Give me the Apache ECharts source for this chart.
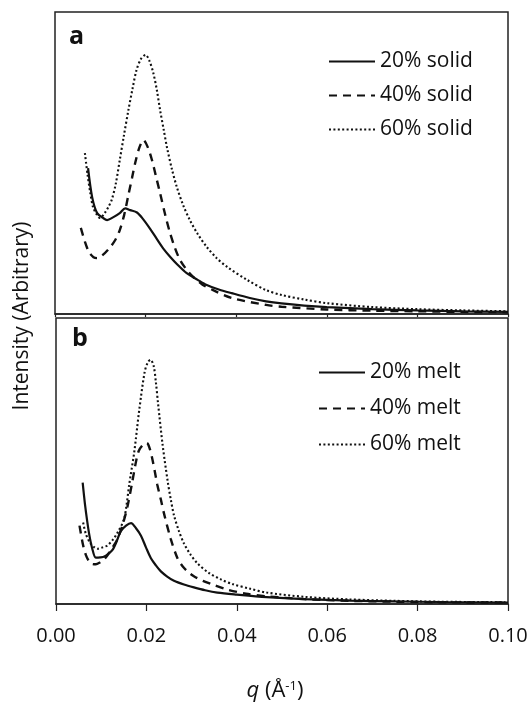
<!DOCTYPE html>
<html>
<head>
<meta charset="utf-8">
<script src="https://cdn.jsdelivr.net/npm/echarts@6/dist/echarts.min.js"></script>
<style>
  html, body { margin: 0; padding: 0; background: #fff; }
  #chart { width: 532px; height: 704px; }
</style>
</head>
<body>
<div id="chart"></div>
<script>
// Scattering vector q (1/Å) and relative intensity pairs for each curve.
// Panel a: solid samples
const solid20 = [
  [0.0073, 48.3], [0.0082, 38.7], [0.0093, 33.4], [0.0106, 31.8], [0.0115, 31.1],
  [0.0128, 32.0], [0.0143, 33.4], [0.0155, 35.0], [0.0166, 34.4], [0.0181, 33.6],
  [0.0194, 31.5], [0.0210, 28.2], [0.0225, 24.8], [0.0240, 21.5], [0.0255, 18.8],
  [0.0270, 16.4], [0.0290, 13.6], [0.0315, 11.3], [0.0335, 9.6], [0.0360, 8.2],
  [0.0390, 6.9], [0.0430, 5.3], [0.0466, 4.2], [0.050, 3.5], [0.055, 2.8],
  [0.060, 2.3], [0.070, 1.6], [0.080, 1.2], [0.090, 0.9], [0.100, 0.7]
];
const solid40 = [
  [0.0057, 28.5], [0.0066, 24.0], [0.0075, 20.5], [0.0085, 18.8], [0.0093, 18.5],
  [0.0105, 19.5], [0.0120, 21.8], [0.0133, 24.5], [0.0143, 27.8], [0.0153, 33.0],
  [0.0162, 39.4], [0.0170, 45.0], [0.0177, 50.0], [0.0186, 55.0], [0.0195, 57.6],
  [0.0204, 55.5], [0.0214, 51.0], [0.0223, 45.5], [0.0232, 40.0], [0.0243, 33.0],
  [0.0254, 26.8], [0.0265, 21.8], [0.0276, 17.9], [0.0290, 14.8], [0.0305, 12.3],
  [0.0325, 9.8], [0.0349, 7.9], [0.0390, 5.3], [0.0466, 3.0], [0.050, 2.4],
  [0.060, 1.5], [0.070, 1.1], [0.080, 0.9], [0.090, 0.7], [0.100, 0.6]
];
const solid60 = [
  [0.0066, 53.3], [0.0072, 46.0], [0.0078, 40.0], [0.0084, 35.4], [0.0092, 33.0],
  [0.0099, 31.8], [0.0110, 33.5], [0.0118, 35.5], [0.0125, 37.7], [0.0134, 43.0],
  [0.0143, 51.0], [0.0152, 59.0], [0.0162, 67.5], [0.0171, 74.5], [0.0180, 80.8],
  [0.0190, 84.5], [0.0200, 85.8], [0.0208, 84.0], [0.0217, 79.8], [0.0225, 74.0],
  [0.0232, 67.5], [0.0240, 61.0], [0.0247, 55.3], [0.0258, 48.0], [0.0269, 42.0],
  [0.0283, 36.0], [0.0298, 31.0], [0.0315, 26.5], [0.0335, 22.2], [0.0357, 18.5],
  [0.0380, 15.6], [0.0424, 11.3], [0.0466, 7.9], [0.050, 6.3], [0.055, 4.8],
  [0.060, 3.6], [0.070, 2.3], [0.080, 1.6], [0.090, 1.2], [0.100, 0.9]
];
// Panel b: melt samples
const melt20 = [
  [0.0059, 42.4], [0.0064, 35.0], [0.0069, 29.0], [0.0074, 23.9], [0.0080, 19.5],
  [0.0088, 16.2], [0.0098, 16.3], [0.0107, 16.6], [0.0116, 17.6], [0.0125, 18.9],
  [0.0134, 21.8], [0.0143, 25.4], [0.0155, 27.4], [0.0166, 28.3], [0.0177, 26.5],
  [0.0188, 23.9], [0.0199, 19.8], [0.0210, 16.0], [0.0221, 13.5], [0.0232, 11.4],
  [0.0246, 9.6], [0.0261, 8.1], [0.0283, 6.8], [0.0305, 5.8], [0.0330, 4.8],
  [0.0357, 4.0], [0.040, 3.3], [0.0466, 2.4], [0.055, 1.7], [0.065, 1.2],
  [0.075, 0.9], [0.085, 0.7], [0.100, 0.5]
];
const melt40 = [
  [0.0052, 27.4], [0.0060, 20.5], [0.0066, 17.2], [0.0073, 14.9], [0.0080, 14.0],
  [0.0088, 13.9], [0.0097, 14.5], [0.0106, 15.5], [0.0118, 18.0], [0.0128, 20.5],
  [0.0136, 22.7], [0.0147, 27.5], [0.0158, 34.0], [0.0169, 42.9], [0.0176, 49.0],
  [0.0183, 53.5], [0.0192, 55.6], [0.0201, 56.3], [0.0207, 54.5], [0.0213, 50.8],
  [0.0219, 46.0], [0.0224, 41.8], [0.0232, 36.5], [0.0239, 31.6], [0.0254, 22.7],
  [0.0269, 15.9], [0.0280, 13.2], [0.0291, 11.4], [0.0305, 9.7], [0.0325, 8.1],
  [0.0350, 6.6], [0.0380, 5.0], [0.0420, 3.6], [0.0466, 2.7], [0.055, 1.7],
  [0.065, 1.1], [0.075, 0.8], [0.085, 0.6], [0.100, 0.5]
];
const melt60 = [
  [0.0060, 28.5], [0.0066, 24.5], [0.0075, 21.5], [0.0085, 19.8], [0.0092, 19.3],
  [0.0103, 19.8], [0.0114, 20.5], [0.0125, 22.3], [0.0136, 24.9], [0.0150, 29.4],
  [0.0156, 34.5], [0.0162, 41.8], [0.0173, 53.0], [0.0184, 67.6], [0.0196, 81.0],
  [0.0203, 84.5], [0.0209, 85.4], [0.0216, 83.3], [0.0221, 77.5], [0.0226, 69.8],
  [0.0236, 55.5], [0.0247, 43.0], [0.0254, 36.5], [0.0261, 31.0], [0.0272, 25.5],
  [0.0283, 21.2], [0.0298, 17.2], [0.0313, 14.2], [0.0338, 10.9], [0.0365, 8.6],
  [0.0390, 7.0], [0.0430, 5.3], [0.0466, 4.0], [0.055, 2.5], [0.065, 1.6],
  [0.075, 1.1], [0.085, 0.8], [0.100, 0.6]
];

const xTicks = [0.00, 0.02, 0.04, 0.06, 0.08, 0.10];
const solidNames = ['20% solid', '40% solid', '60% solid'];
const meltNames = ['20% melt', '40% melt', '60% melt'];

const FONT = 'Open Sans';
const INK = '#111';
const FRAME = '#222';

const lineStyles = [
  { type: 'solid', width: 2.2 },
  { type: [8, 6], width: 2.4 },
  { type: [2, 2.4], width: 2.1 }
];

function makeSeries(name, data, gridIdx, styleIdx) {
  return {
    name: name,
    type: 'line',
    xAxisIndex: gridIdx,
    yAxisIndex: gridIdx,
    data: data,
    showSymbol: false,
    symbol: 'none',
    smooth: 0.3,
    color: INK,
    lineStyle: Object.assign({ color: INK }, lineStyles[styleIdx]),
    z: 3 - styleIdx
  };
}

function xAxis(gridIdx, withLabels) {
  return {
    type: 'value',
    gridIndex: gridIdx,
    min: 0,
    max: 0.1,
    interval: 0.02,
    axisLine: { show: true, lineStyle: { color: FRAME, width: 1.5 } },
    axisTick: { show: true, inside: false, length: withLabels ? 7 : 3, lineStyle: { color: FRAME, width: 1.2 } },
    splitLine: { show: false },
    axisLabel: {
      show: withLabels,
      fontFamily: FONT,
      fontSize: 20,
      color: INK,
      margin: 22,
      formatter: v => {
        const t = xTicks.find(k => Math.abs(k - v) < 1e-9);
        return (t === undefined ? v : t).toFixed(2);
      }
    },
    name: withLabels ? '{q|q} (Å{s|-1})' : '',
    nameLocation: 'middle',
    nameGap: 76,
    nameTextStyle: {
      fontFamily: FONT,
      fontSize: 22,
      color: INK,
      padding: [0, 14, 0, 0],
      rich: {
        q: { fontFamily: FONT, fontSize: 22, fontStyle: 'italic', color: INK },
        s: { fontFamily: FONT, fontSize: 13, color: INK, verticalAlign: 'top', lineHeight: 13, padding: [0, 0, 10, 0] }
      }
    }
  };
}

function yAxis(gridIdx) {
  return {
    type: 'value',
    gridIndex: gridIdx,
    min: 0,
    max: 100,
    axisLine: { show: false },
    axisTick: { show: false },
    axisLabel: { show: false },
    splitLine: { show: false }
  };
}

function legendFor(names, left, top, gap) {
  return {
    show: true,
    orient: 'vertical',
    left: left,
    top: top,
    data: names,
    itemWidth: 46,
    itemHeight: 14,
    itemGap: gap,
    selectedMode: false,
    itemStyle: { opacity: 0 },
    textStyle: { fontFamily: FONT, fontSize: 21, color: INK }
  };
}

const chart = echarts.init(document.getElementById('chart'), null, { renderer: 'canvas' });

chart.setOption({
  backgroundColor: '#fff',
  animation: false,
  grid: [
    { left: 55, right: 24, top: 12, height: 302, show: true, borderColor: FRAME, borderWidth: 1.5, backgroundColor: 'transparent' },
    { left: 56, right: 24, top: 318, height: 296, show: true, borderColor: FRAME, borderWidth: 1.5, backgroundColor: 'transparent' }
  ],
  xAxis: [xAxis(0, false), xAxis(1, true)],
  yAxis: [yAxis(0), yAxis(1)],
  legend: [
    legendFor(solidNames, 323, 46, 13),
    legendFor(meltNames, 313, 357, 15)
  ],
  graphic: [
    { type: 'text', left: 69, top: 24, style: { text: 'a', font: 'bold 25px "Open Sans"', fill: INK } },
    { type: 'text', left: 72, top: 326, style: { text: 'b', font: 'bold 25px "Open Sans"', fill: INK } },
    {
      type: 'text', x: 22, y: 316, rotation: Math.PI / 2,
      style: { text: 'Intensity (Arbitrary)', font: '21px "Open Sans"', fill: INK, align: 'center', verticalAlign: 'middle' }
    }
  ],
  series: [
    makeSeries(solidNames[0], solid20, 0, 0),
    makeSeries(solidNames[1], solid40, 0, 1),
    makeSeries(solidNames[2], solid60, 0, 2),
    makeSeries(meltNames[0], melt20, 1, 0),
    makeSeries(meltNames[1], melt40, 1, 1),
    makeSeries(meltNames[2], melt60, 1, 2)
  ]
});
</script>
</body>
</html>
